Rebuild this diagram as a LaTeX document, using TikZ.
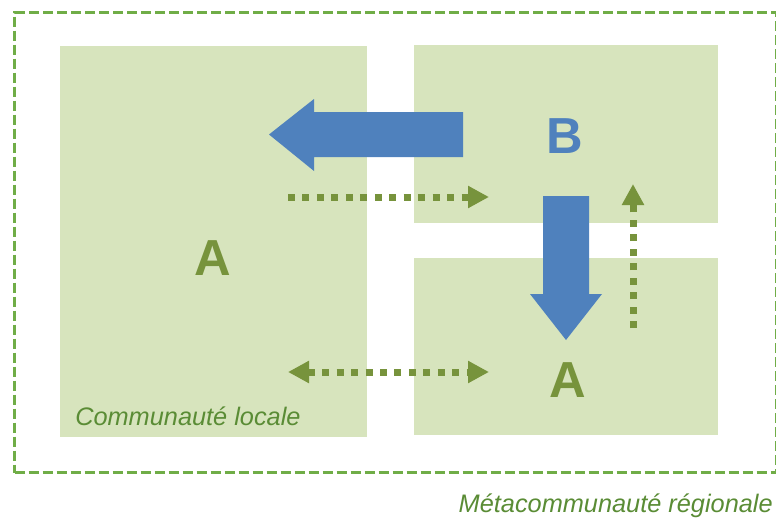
\documentclass[tikz,border=0pt]{standalone}
\usepackage{fontspec}
\setmainfont{Liberation Sans}
\usetikzlibrary{arrows.meta}
\definecolor{boxfill}{HTML}{D7E4BD}
\definecolor{olive}{HTML}{77933C}
\definecolor{labelgreen}{HTML}{5A8C35}
\definecolor{framegreen}{HTML}{70AD47}
\definecolor{blueA}{HTML}{4F81BD}
\begin{document}
\begin{tikzpicture}[x=0.75pt,y=-0.75pt,
  patch/.style={fill=boxfill, draw=none, anchor=north west, inner sep=0pt},
  bigletter/.style={inner sep=0pt, font=\bfseries\fontsize{38}{38}\selectfont},
  label/.style={inner sep=0pt, text=labelgreen, font=\itshape\fontsize{19}{19}\selectfont},
  dotarrow/.style={draw=olive, line width=5.25pt, dash pattern=on 5.25pt off 5.6pt},
  bluearrow/.style={fill=blueA, draw=none}]
\useasboundingbox (0,0) rectangle (776,521);
% regional frame
\node[draw=framegreen, line width=2.4pt, dash pattern=on 7.5pt off 3pt, anchor=north west, inner sep=0pt,
  minimum width=571.5pt, minimum height=345pt] (frame) at (13,11) {};
% patches
\node[patch, minimum width=230.25pt, minimum height=293.25pt] (L) at (60,46) {};
\node[patch, minimum width=228pt, minimum height=133.5pt] (TR) at (414,45) {};
\node[patch, minimum width=228pt, minimum height=132.75pt] (BR) at (414,258) {};
% letters
\node[bigletter, text=olive] (a1) at (213,258.5) {A};
\node[bigletter, text=blueA] (b) at (564.5,136) {B};
\node[bigletter, text=olive] (a2) at (568,380) {A};
% labels
\node[label, anchor=base west] (loc) at (75,425) {Communauté locale};
\node[label, anchor=base east] (meta) at (773,512) {Métacommunauté régionale};
% blue arrows
\fill[bluearrow] (463,112) -- (314,112) -- (314,99) -- (269,134.5) -- (314,171) -- (314,157) -- (463,157) -- cycle;
\fill[bluearrow] (543,196) -- (589,196) -- (589,294) -- (602,294) -- (566,340) -- (530,294) -- (543,294) -- cycle;
% dotted arrows
\coordinate (r1) at (288,197);
\coordinate (r2) at (489,197);
\coordinate (u1) at (633,328);
\coordinate (u2) at (633,184);
\coordinate (d1) at (288,372);
\coordinate (d2) at (489,372);
\draw[dotarrow, -{Triangle[length=15.75pt,width=15.75pt]}] (r1) -- (r2);
\draw[dotarrow, -{Triangle[length=15.75pt,width=15.75pt]}] (u1) -- (u2);
\draw[dotarrow, {Triangle[length=15.75pt,width=15.75pt]}-{Triangle[length=15.75pt,width=15.75pt]}] (d1) -- (d2);
\end{tikzpicture}
\end{document}
